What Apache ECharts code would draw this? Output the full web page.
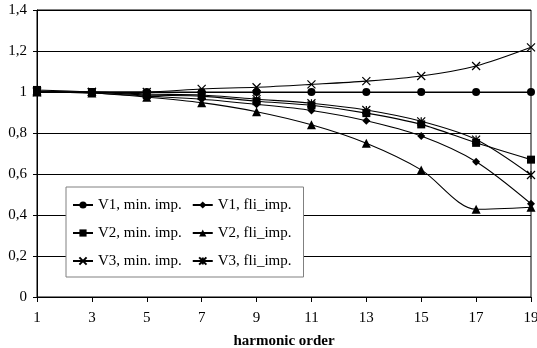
<!DOCTYPE html>
<html>
<head>
<meta charset="utf-8">
<script src="https://cdn.jsdelivr.net/npm/echarts@6/dist/echarts.min.js"></script>
<style>
  html, body { margin: 0; padding: 0; background: #fff; }
  #chart { width: 537px; height: 348px; }
</style>
</head>
<body>
<div id="chart"></div>
<script>
// Harmonic orders on the x axis
var harmonics = [1, 3, 5, 7, 9, 11, 13, 15, 17, 19];

// Relative voltage per harmonic order
var v1Min = [1.0, 1.0, 1.0, 1.0, 1.0, 1.0, 1.0, 1.0, 1.0, 1.0];
var v1Fli = [1.0, 0.995, 0.98, 0.965, 0.94, 0.91, 0.86, 0.785, 0.66, 0.455];
var v2Min = [1.01, 1.0, 0.985, 0.98, 0.955, 0.935, 0.897, 0.842, 0.752, 0.67];
var v2Fli = [1.0, 0.995, 0.975, 0.948, 0.904, 0.84, 0.75, 0.62, 0.428, 0.438];
var v3Min = [1.005, 1.0, 1.0, 1.015, 1.023, 1.037, 1.053, 1.078, 1.127, 1.218];
var v3Fli = [1.0, 1.0, 0.99, 0.985, 0.965, 0.945, 0.912, 0.857, 0.768, 0.595];

var seriesNames = ['V1, min. imp.', 'V1, fli_imp.', 'V2, min. imp.', 'V2, fli_imp.', 'V3, min. imp.', 'V3, fli_imp.'];
var seriesValues = [v1Min, v1Fli, v2Min, v2Fli, v3Min, v3Fli];

var crossPath = 'path://M0,0L10,10M10,0L0,10';
var starPath = 'path://M0,0L10,10M10,0L0,10M5,0L5,10';
var symbols = ['circle', 'diamond', 'rect', 'triangle', crossPath, starPath];
var symbolSizes = [8, 8, 8, 9, 8, 8];

var font = 'Liberation Serif';

function pairs(vals) {
  return harmonics.map(function (h, i) { return [h, vals[i]]; });
}

var series = seriesNames.map(function (name, i) {
  var stroked = i >= 4;
  return {
    name: name,
    type: 'line',
    smooth: 0.3,
    data: pairs(seriesValues[i]),
    symbol: symbols[i],
    symbolSize: symbolSizes[i],
    lineStyle: { color: '#000', width: 1.1 },
    itemStyle: stroked
      ? { color: '#000', borderColor: '#000', borderWidth: 1.2 }
      : { color: '#000', borderWidth: 0 },
    emphasis: { disabled: true },
    z: 3
  };
});

var chart = echarts.init(document.getElementById('chart'), null, { renderer: 'canvas' });
chart.setOption({
  animation: false,
  backgroundColor: '#fff',
  grid: {
    left: 37, right: 6, top: 10, bottom: 51,
    outerBoundsMode: 'none',
    containLabel: false,
    show: true, borderColor: '#000', borderWidth: 1
  },
  legend: {
    data: seriesNames,
    left: 66,
    top: 187,
    width: 224,
    orient: 'horizontal',
    itemWidth: 20,
    itemHeight: 9,
    itemGap: 10,
    padding: [9, 12, 7, 6],
    backgroundColor: '#fff',
    borderColor: '#808080',
    borderWidth: 1,
    borderRadius: 0,
    textStyle: { fontFamily: font, fontSize: 15, color: '#000', height: 18, lineHeight: 18 },
    z: 10
  },
  xAxis: {
    type: 'value',
    min: 1,
    max: 19,
    interval: 2,
    name: 'harmonic order',
    nameLocation: 'middle',
    nameGap: 37,
    nameTextStyle: { fontFamily: font, fontSize: 15, fontWeight: 'bold', color: '#000' },
    axisLine: { lineStyle: { color: '#000', width: 1 } },
    axisTick: { show: true, inside: false, length: 5, lineStyle: { color: '#000' } },
    axisLabel: { fontFamily: font, fontSize: 15, color: '#000', margin: 14 },
    splitLine: { show: false }
  },
  yAxis: {
    type: 'value',
    min: 0,
    max: 1.4,
    interval: 0.2,
    axisLine: { show: true, lineStyle: { color: '#000', width: 1 } },
    axisTick: { show: true, inside: false, length: 4, lineStyle: { color: '#000' } },
    axisLabel: {
      fontFamily: font, fontSize: 15, color: '#000', margin: 10,
      formatter: function (v) { return String(Math.round(v * 10) / 10).replace('.', ','); }
    },
    splitLine: { show: true, lineStyle: { color: '#000', width: 1 } }
  },
  series: series
});
</script>
</body>
</html>
